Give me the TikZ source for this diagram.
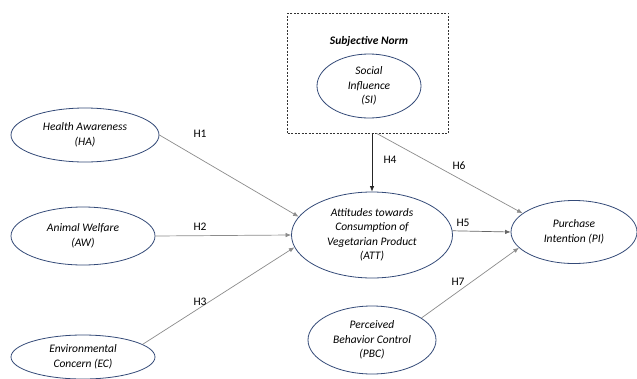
\documentclass[tikz,border=0pt]{standalone}
\usepackage{fontspec}
\setmainfont{Carlito}
\usetikzlibrary{shapes.geometric,arrows.meta}
\definecolor{ellblue}{RGB}{52,74,120}
\definecolor{lgray}{RGB}{140,140,140}
\tikzset{
  construct/.style={ellipse, draw=ellblue, line width=0.8pt, inner sep=0pt, align=center,
    font=\fontsize{11.5}{14.5}\selectfont\itshape},
  path/.style={draw=lgray, line width=0.7pt, -{Latex[length=5.5pt,width=4.5pt]}},
  hlabel/.style={font=\fontsize{11.5}{13}\selectfont, inner sep=0pt}
}
\begin{document}
\begin{tikzpicture}[x=1pt,y=-1pt]
\useasboundingbox (0,0) rectangle (637,378);
\fill[white] (0,0) rectangle (637,378);
% subjective norm box
\node[draw=black!80, dashed, dash pattern=on 2pt off 1.5pt, line width=0.6pt,
  minimum width=161pt, minimum height=120pt, inner sep=0pt] (box) at (368,73) {};
\node[font=\fontsize{11.5}{13}\selectfont\bfseries\itshape] (sn) at (369,41) {Subjective Norm};
\node[construct, minimum width=104pt, minimum height=64pt] (SI) at (369,86) {Social\\Influence\\(SI)};
% left constructs
\node[construct, minimum width=148pt, minimum height=54pt] (HA) at (85,135) {Health Awareness\\(HA)};
\node[construct, minimum width=144pt, minimum height=58pt] (AW) at (83,236) {Animal Welfare\\(AW)};
\node[construct, minimum width=144pt, minimum height=44pt] (EC) at (83,357) {Environmental\\Concern (EC)};
% center
\node[construct, minimum width=161pt, minimum height=86pt] (ATT) at (372,235)
  {Attitudes towards\\Consumption of\\Vegetarian Product\\(ATT)};
\node[construct, minimum width=126pt, minimum height=63pt] (PI) at (574,232) {Purchase\\Intention (PI)};
\node[construct, minimum width=128pt, minimum height=68pt] (PBC) at (372,340)
  {Perceived\\Behavior Control\\(PBC)};
% connectors
\draw[path] (HA.east) -- (ATT.166);
\draw[path] (AW.east) -- (ATT.west);
\draw[path] (EC.12) -- (ATT.189);
\draw[path, draw=black!85] (box.south -| ATT.north) -- (ATT.north);
\draw[path] (box.-82) -- (PI.160);
\draw[path, draw=black!60] (ATT.3) -- (PI.west);
\draw[path] (PBC.24) -- (PI.196);
% labels
\node[hlabel] (h1) at (200,134) {H1};
\node[hlabel] (h2) at (200,227) {H2};
\node[hlabel] (h3) at (200,302) {H3};
\node[hlabel] (h4) at (390,160) {H4};
\node[hlabel] (h5) at (463,223) {H5};
\node[hlabel] (h6) at (459,166) {H6};
\node[hlabel] (h7) at (458,282) {H7};
\end{tikzpicture}
\end{document}
